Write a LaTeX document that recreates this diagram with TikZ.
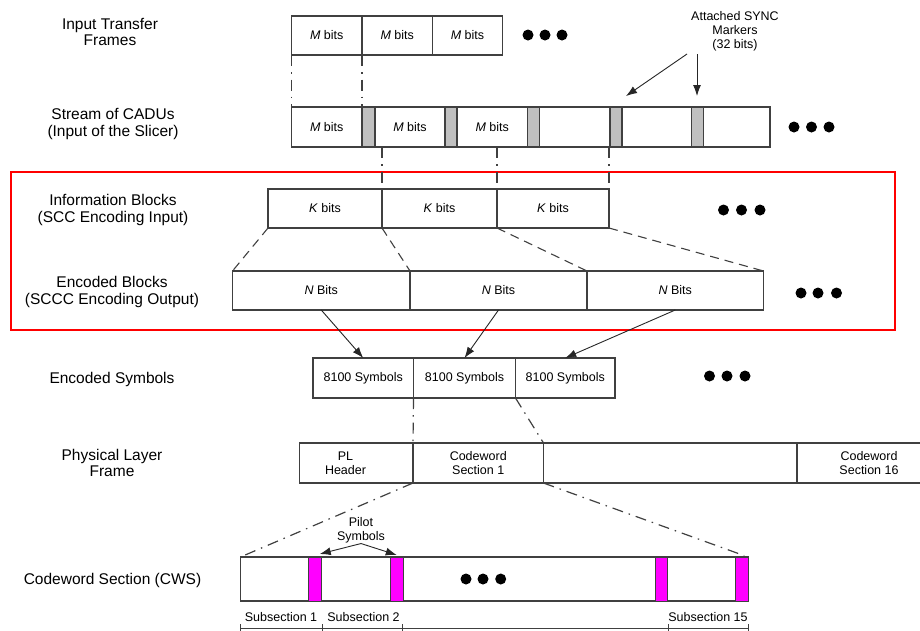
\documentclass[tikz,border=0pt]{standalone}
\usepackage{fontspec}
\setmainfont{Liberation Sans}
\usetikzlibrary{arrows.meta}
\definecolor{ln}{HTML}{404040}
\definecolor{syncgray}{HTML}{C0C0C0}
\definecolor{pilotmag}{HTML}{FF00FF}
\begin{document}
\begin{tikzpicture}[x=1pt,y=-1pt,
  bx/.style={draw=ln,line width=1.1pt,inner sep=0pt,outer sep=0pt,anchor=north west,fill=white,
    font=\fontsize{12.5}{14}\selectfont,align=center},
  syncbox/.style={bx,fill=syncgray},
  pilotbox/.style={bx,fill=pilotmag,line width=0.9pt},
  lbl/.style={font=\fontsize{15.5}{16.5}\selectfont,align=center,inner sep=0pt},
  small/.style={font=\fontsize{12.5}{14}\selectfont,align=center,inner sep=0pt},
  ddot/.style={draw=ln,line width=1.2pt,dash pattern=on 11pt off 6pt on 1.5pt off 6pt},
  dsh/.style={draw=ln,line width=1.1pt,dash pattern=on 9pt off 6pt},
  arr/.style={draw=black!85,line width=0.9pt,-{Latex[length=11pt,width=8pt]}},
  dotc/.style={fill=black}]
\useasboundingbox (0,0) rectangle (920,630);

% red frame
\draw[red,line width=2.5pt] (11,172) rectangle (895,330);

% left labels
\node[lbl] (l1) at (110,32) {Input Transfer\\Frames};
\node[lbl] (l2) at (113,124) {Stream of CADUs\\(Input of the Slicer)};
\node[lbl] (l3) at (113,210) {Information Blocks\\(SCC Encoding Input)};
\node[lbl] (l4) at (112,292) {Encoded Blocks\\(SCCC Encoding Output)};
\node[lbl] (l5) at (112,379) {Encoded Symbols};
\node[lbl] (l6) at (112,463) {Physical Layer\\Frame};
\node[lbl] (l7) at (112.5,580) {Codeword Section (CWS)};

% row 1: input transfer frames
\node[bx,minimum width=70.5pt,minimum height=39pt] (r1a) at (291.5,16) {\textit{M} bits};
\node[bx,minimum width=70.5pt,minimum height=39pt] (r1b) at (362,16) {\textit{M} bits};
\node[bx,minimum width=70pt,minimum height=39pt] (r1c) at (432.5,16) {\textit{M} bits};
\fill[dotc] (528,35) circle (5.5pt) (545,35) circle (5.5pt) (562,35) circle (5.5pt);

% row 2: stream of CADUs
\node[bx,minimum width=70.5pt,minimum height=40pt] (d1) at (291.5,107) {\textit{M} bits};
\node[bx,minimum width=70pt,minimum height=40pt] (d2) at (375,107) {\textit{M} bits};
\node[bx,minimum width=70.5pt,minimum height=40pt] (d3) at (457,107) {\textit{M} bits};
\node[bx,minimum width=70.5pt,minimum height=40pt] (d4) at (539.5,107) {};
\node[bx,minimum width=69.5pt,minimum height=40pt] (d5) at (622,107) {};
\node[bx,minimum width=66.5pt,minimum height=40pt] (d6) at (703.5,107) {};
\node[syncbox,minimum width=13pt,minimum height=40pt] (s1) at (362,107) {};
\node[syncbox,minimum width=12pt,minimum height=40pt] (s2) at (445,107) {};
\node[syncbox,minimum width=12pt,minimum height=40pt] (s3) at (527.5,107) {};
\node[syncbox,minimum width=12pt,minimum height=40pt] (s4) at (610,107) {};
\node[syncbox,minimum width=12pt,minimum height=40pt] (s5) at (691.5,107) {};
\fill[dotc] (794,127) circle (5.5pt) (811.5,127) circle (5.5pt) (829,127) circle (5.5pt);

% sync markers label and arrows
\node[small] (sync) at (735,31) {Attached SYNC\\Markers\\(32 bits)};
\coordinate (sa1) at (687,54);
\coordinate (sa2) at (697,54);
\coordinate (st1) at (626,96);
\coordinate (st2) at (697,96);
\draw[arr] (sa1) -- (st1);
\draw[arr] (sa2) -- (st2);

% row1 -> row2
\draw[ddot] (r1a.south west) -- (d1.north west);
\draw[ddot] (r1a.south east) -- (s1.north west);

% row 3: information blocks
\node[bx,minimum width=114pt,minimum height=39pt] (k1) at (268,189) {\textit{K} bits};
\node[bx,minimum width=115pt,minimum height=39pt] (k2) at (382,189) {\textit{K} bits};
\node[bx,minimum width=112pt,minimum height=39pt] (k3) at (497,189) {\textit{K} bits};
\fill[dotc] (723.5,210) circle (5.5pt) (741.5,210) circle (5.5pt) (760,210) circle (5.5pt);

% row2 -> row3
\draw[ddot] (k1.north east |- d2.south) -- (k1.north east);
\draw[ddot] (k2.north east |- d3.south) -- (k2.north east);
\draw[ddot] (k3.north east |- d4.south) -- (k3.north east);

% row 4: encoded blocks
\node[bx,minimum width=177.5pt,minimum height=39pt] (n1) at (232.5,271) {\textit{N} Bits};
\node[bx,minimum width=177pt,minimum height=39pt] (n2) at (410,271) {\textit{N} Bits};
\node[bx,minimum width=176.5pt,minimum height=39pt] (n3) at (587,271) {\textit{N} Bits};
\fill[dotc] (801,293) circle (5.5pt) (818,293) circle (5.5pt) (836.5,293) circle (5.5pt);

% row3 -> row4
\draw[dsh] (k1.south west) -- (n1.north west);
\draw[dsh] (k1.south east) -- (n2.north west);
\draw[dsh] (k2.south east) -- (n3.north west);
\draw[dsh] (k3.south east) -- (n3.north east);

% row 5: encoded symbols
\node[bx,minimum width=100.5pt,minimum height=40pt] (e1) at (313,358) {8100 Symbols};
\node[bx,minimum width=102pt,minimum height=40pt] (e2) at (413.5,358) {8100 Symbols};
\node[bx,minimum width=99.5pt,minimum height=40pt] (e3) at (515.5,358) {8100 Symbols};
\fill[dotc] (709.5,376) circle (5.5pt) (727,376) circle (5.5pt) (745,376) circle (5.5pt);

% row4 -> row5
\draw[arr] (n1.south) -- (e1.north);
\draw[arr] (n2.south) -- (e2.north);
\draw[arr] (n3.south) -- (e3.north);

% row 6: physical layer frame
\node[bx,minimum width=113.5pt,minimum height=40pt] (p1) at (299.5,443) {};
\node[bx,minimum width=130.5pt,minimum height=40pt] (p2) at (413,443) {Codeword\\Section 1};
\node[bx,minimum width=253.5pt,minimum height=40pt] (p3) at (543.5,443) {};
\node[bx,minimum width=144pt,minimum height=40pt] (p4) at (797,443) {Codeword\\Section 16};
\node[small] (plh) at (345.5,463) {PL\\Header};

% row5 -> row6
\draw[ddot] (e1.south east) -- (p2.north west);
\draw[ddot] (e2.south east) -- (p2.north east);

% row 7: codeword section
\node[bx,minimum width=507.5pt,minimum height=44pt] (cw) at (240.5,557) {};
\node[pilotbox,minimum width=12.5pt,minimum height=44pt] (pl1) at (308.5,557) {};
\node[pilotbox,minimum width=12.5pt,minimum height=44pt] (pl2) at (390.5,557) {};
\node[pilotbox,minimum width=12pt,minimum height=44pt] (pl3) at (655.5,557) {};
\node[pilotbox,minimum width=12.5pt,minimum height=44pt] (pl4) at (735.5,557) {};
\fill[dotc] (466,579) circle (5.5pt) (483,579) circle (5.5pt) (500.7,579) circle (5.5pt);

% row6 -> row7
\draw[ddot,shorten >=4pt] (p1.south east) -- (cw.north west);
\draw[ddot,shorten >=4pt] (p2.south east) -- (cw.north east);

% pilot symbols
\node[small] (pilot) at (361,530.5) {Pilot\\Symbols};
\draw[arr] (pilot.south) -- ([shift={(5pt,3pt)}]pl1.north);
\draw[arr] (pilot.south) -- ([yshift=2pt]pl2.north);

% subsection labels and brackets
\node[small] (ss1) at (281,617) {Subsection 1};
\node[small] (ss2) at (363.5,617) {Subsection 2};
\node[small] (ss15) at (708,617) {Subsection 15};
\coordinate (b0) at (240.5,628);
\coordinate (b1) at (322,628);
\coordinate (b2) at (402,628);
\coordinate (b3) at (668.5,628);
\coordinate (b4) at (748,628);
\draw[ln,line width=1pt] (b0) -- (b4);
\foreach \b in {b0,b1,b2,b3,b4}
  \draw[ln,line width=1pt] ([yshift=4pt]\b) -- ([yshift=-3pt]\b);
\end{tikzpicture}
\end{document}
